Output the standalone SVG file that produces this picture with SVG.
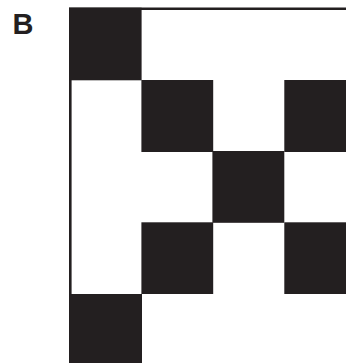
<svg xmlns="http://www.w3.org/2000/svg" width="346" height="363" viewBox="0 0 346 363">
<style>
.sq{fill:#231f20}
.ax{stroke:#231f20;stroke-width:2.6;fill:none}
.lbl{font-family:"Liberation Sans",Arial,sans-serif;font-weight:bold;font-size:29px;fill:#231f20}
</style>
<rect width="346" height="363" fill="#fff"/>
<text class="lbl" x="12.5" y="34">B</text>
<g id="axes">
<path class="ax" d="M70.3,363 V8.8 H346"/>
</g>
<g id="cells">
<rect id="r0c0" class="sq" x="69" y="7.7" width="72.6" height="72.6"/>
<rect id="r1c1" class="sq" x="141.4" y="80" width="71.8" height="72"/>
<rect id="r1c3" class="sq" x="284.3" y="80" width="62" height="72"/>
<rect id="r2c2" class="sq" x="212.4" y="151" width="71.9" height="71.8"/>
<rect id="r3c1" class="sq" x="141.4" y="222.3" width="71.8" height="71.7"/>
<rect id="r3c3" class="sq" x="284.3" y="222.3" width="62" height="71.7"/>
<rect id="r4c0" class="sq" x="69" y="294" width="73" height="69"/>
</g>
</svg>
